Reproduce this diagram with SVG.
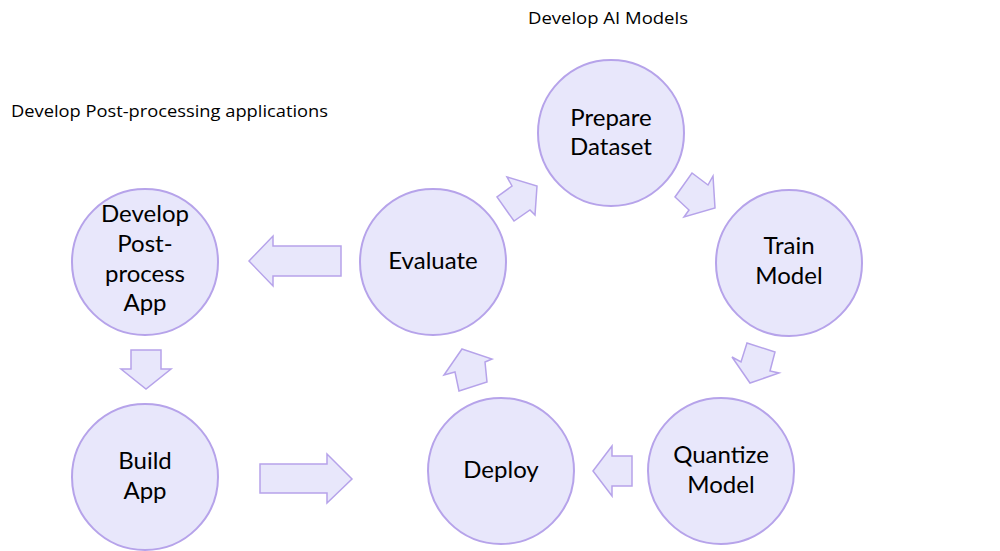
<svg xmlns="http://www.w3.org/2000/svg" width="1000" height="551" viewBox="0 0 1000 551">
<style>
.c{fill:#E8E7FB;stroke:#B6A3EA;stroke-width:2}
.a{fill:#E8E7FB;stroke:#B6A3EA;stroke-width:1.5;stroke-linejoin:miter}
.t{font-family:Lato,"Open Sans",sans-serif;font-size:24px;fill:#000;text-anchor:middle}
.h{font-family:"Open Sans",Lato,sans-serif;font-size:16px;fill:#000}
</style>
<rect width="1000" height="551" fill="#fff"/>
<text class="h" x="528" y="24" textLength="160" lengthAdjust="spacingAndGlyphs">Develop AI Models</text>
<text class="h" x="11" y="117" textLength="317" lengthAdjust="spacingAndGlyphs">Develop Post-processing applications</text>
<g id="connectors">
<polygon class="a" points="507,177 537,186 535,215 530,210 514,221 497,197 512,186"/>
<polygon class="a" points="713,176 715,208 684,217 689,210 675,197 692,173 708,185"/>
<polygon class="a" points="747,343 775,352 770,371 779,373 750,383 732,357 741,362"/>
<polygon class="a" points="593,471 612,446 612,456 632,456 632,486 612,486 612,496"/>
<polygon class="a" points="462,349 492,359 485,362 487,382 459,391 455,372 444,375"/>
<polygon class="a" points="249,261 273,236 273,246 341,246 341,276 273,276 273,286"/>
<polygon class="a" points="131,350 161,350 161,369 171,369 146,389 121,369 131,369"/>
<polygon class="a" points="260,464 327,464 327,454 352,479 327,503 327,493 260,493"/>
</g>
<g id="prepare"><circle class="c" cx="611" cy="133" r="73"/><text class="t" x="611" y="126">Prepare</text><text class="t" x="611" y="155">Dataset</text></g>
<g id="train"><circle class="c" cx="789" cy="263" r="73"/><text class="t" x="789" y="254">Train</text><text class="t" x="789" y="284">Model</text></g>
<g id="quantize"><circle class="c" cx="721" cy="471" r="73"/><text class="t" x="721" y="463">Quantize</text><text class="t" x="721" y="493">Model</text></g>
<g id="deploy"><circle class="c" cx="501" cy="471" r="73"/><text class="t" x="501" y="478">Deploy</text></g>
<g id="evaluate"><circle class="c" cx="433" cy="262" r="73"/><text class="t" x="433" y="269">Evaluate</text></g>
<g id="develop"><circle class="c" cx="145" cy="262" r="73"/><text class="t" x="145" y="222">Develop</text><text class="t" x="145" y="252">Post-</text><text class="t" x="145" y="282">process</text><text class="t" x="145" y="311">App</text></g>
<g id="build"><circle class="c" cx="145" cy="477" r="73"/><text class="t" x="145" y="469">Build</text><text class="t" x="145" y="499">App</text></g>
</svg>
